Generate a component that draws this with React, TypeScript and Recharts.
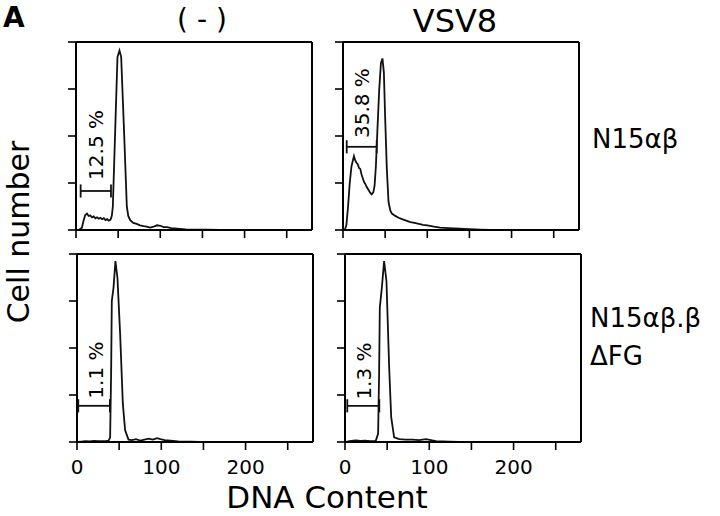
import { LineChart, Line, XAxis, YAxis, ReferenceLine, ReferenceDot } from "recharts";

const FONT = "'DejaVu Sans', 'Liberation Sans', Arial, sans-serif";

// DNA content ticks and cell-number gridding
const dnaTicks = [0, 50, 100, 150, 200, 250];
const countTicks = [0, 1, 2, 3, 4];

// [DNA content, cell number]
const ctrlN15 = [
  [0, 0], [4, 0.01], [7, 0.05], [9, 0.2], [11, 0.32], [13, 0.35], [15, 0.3], [17, 0.31],
  [19, 0.27], [21, 0.29], [23, 0.25], [25, 0.27], [27, 0.24], [29, 0.26], [31, 0.23],
  [33, 0.25], [35, 0.21], [37, 0.23], [39, 0.2], [41, 0.22], [42.5, 0.3], [43.7, 0.5],
  [46.4, 2.06], [49.2, 3.68], [51.6, 3.82], [53.6, 3.68], [57.1, 2.06], [60.3, 0.5],
  [62, 0.3], [64.3, 0.21], [68, 0.15], [72, 0.13], [76, 0.1], [80, 0.08], [84, 0.07],
  [88, 0.05], [92, 0.07], [96, 0.1], [100, 0.09], [104, 0.06], [108, 0.06], [113, 0.04],
  [120, 0.03], [130, 0.015], [140, 0.01], [155, 0.005], [170, 0],
];
const vsvN15 = [
  [2, 0], [4, 0.1], [6, 0.5], [8, 1.0], [10, 1.35], [12, 1.5], [13, 1.57], [14.5, 1.48],
  [16, 1.43], [17.5, 1.4], [19, 1.32], [20.5, 1.3], [22, 1.18], [23.5, 1.1], [25, 1.02],
  [26.5, 0.98], [28, 0.92], [30, 0.86], [32, 0.8], [34, 0.76], [36, 0.8], [37.5, 0.95],
  [39, 1.35], [41, 2.2], [43, 3.0], [45, 3.55], [46.8, 3.65], [48.5, 3.35], [50, 2.4],
  [52, 1.3], [54, 0.6], [56, 0.42], [58, 0.35], [62, 0.3], [66, 0.26], [70, 0.23],
  [75, 0.2], [80, 0.17], [85, 0.15], [90, 0.13], [95, 0.11], [100, 0.1], [108, 0.07],
  [115, 0.05], [125, 0.04], [139, 0.03], [150, 0.02], [163, 0.01], [175, 0],
];
const ctrlDFG = [
  [1.6, 0], [5, 0.01], [10, 0.02], [15, 0.015], [20, 0.025], [25, 0.02], [30, 0.02],
  [35, 0.025], [37.5, 0.03], [39.3, 0.1], [40.5, 1.5], [41.3, 3.0], [43.3, 3.28],
  [45.6, 3.85], [48, 3.49], [51.2, 2.29], [54.4, 0.81], [57.1, 0.25], [61.1, 0.05],
  [65, 0.04], [70, 0.06], [75, 0.03], [80, 0.05], [85, 0.07], [90, 0.05], [95, 0.08],
  [99, 0.06], [104, 0.04], [111, 0.03], [120, 0.015], [135, 0.01], [145, 0],
];
const vsvDFG = [
  [0.8, 0], [5, 0.02], [10, 0.03], [13, 0.035], [18, 0.025], [24, 0.03], [30, 0.02],
  [36.5, 0.025], [39.3, 0.18], [40.5, 1.5], [41.3, 2.86], [43.7, 3.28], [46.4, 3.85],
  [49.2, 3.42], [52.4, 1.59], [54.8, 0.53], [58.3, 0.1], [64.3, 0.06], [72, 0.05],
  [80, 0.05], [88, 0.04], [96, 0.06], [102, 0.04], [108, 0.02], [124, 0.01], [135, 0],
];

// sub-G1 gate: from, to, level, label, label position
const gates = [
  { from: 5.5, to: 41.5, level: 0.83, text: "12.5 %", lx: 23.7, ly: 1.81 },
  { from: 4.4, to: 40, level: 1.77, text: "35.8 %", lx: 23, ly: 2.7 },
  { from: 1.5, to: 39, level: 0.77, text: "1.1 %", lx: 22.5, ly: 1.53 },
  { from: 2.7, to: 40.7, level: 0.77, text: "1.3 %", lx: 23, ly: 1.51 },
];

const panels = [
  { data: ctrlN15, gate: gates[0], left: 76, top: 42, bottom: false },
  { data: vsvN15, gate: gates[1], left: 343, top: 42, bottom: false },
  { data: ctrlDFG, gate: gates[2], left: 77, top: 254, bottom: true },
  { data: vsvDFG, gate: gates[3], left: 345, top: 254, bottom: true },
];

const PW = 236;
const PH = 188;
const YW = 30;
const MT = 10;
const MR = 10;
const CAP = 0.14;

function Panel({ data, gate, left, top, bottom }: any) {
  const rows = data.map(([dna, count]: number[]) => ({ dna, count }));
  const xh = bottom ? 40 : 12;
  return (
    <div style={{ position: "absolute", left: left - YW, top: top - MT }}>
      <LineChart
        width={YW + PW + MR}
        height={MT + PH + xh}
        data={rows}
        margin={{ top: MT, right: MR, bottom: 0, left: 0 }}
      >
        <XAxis
          type="number"
          dataKey="dna"
          domain={[0, 280]}
          ticks={dnaTicks}
          interval={0}
          height={xh}
          tickSize={8}
          tickMargin={10}
          axisLine={{ stroke: "#000", strokeWidth: 2 }}
          tickLine={{ stroke: "#000", strokeWidth: 1.6 }}
          tick={{ fill: "#000", fontSize: 20, fontFamily: FONT }}
          tickFormatter={(v: number) => (bottom && v % 100 === 0 ? String(v) : "")}
          allowDataOverflow
        />
        <YAxis
          type="number"
          domain={[0, 4]}
          ticks={countTicks}
          interval={0}
          width={YW}
          tickSize={8}
          axisLine={{ stroke: "#000", strokeWidth: 2 }}
          tickLine={{ stroke: "#000", strokeWidth: 1.6 }}
          tickFormatter={() => ""}
          allowDataOverflow
        />
        <ReferenceLine y={4} stroke="#000" strokeWidth={2} />
        <ReferenceLine x={280} stroke="#000" strokeWidth={2} />
        <Line
          type="linear"
          dataKey="count"
          stroke="#111"
          strokeWidth={1.8}
          dot={false}
          isAnimationActive={false}
        />
        <ReferenceLine
          segment={[{ x: gate.from, y: gate.level }, { x: gate.to, y: gate.level }]}
          stroke="#111"
          strokeWidth={1.8}
        />
        <ReferenceLine
          segment={[{ x: gate.from, y: gate.level - CAP }, { x: gate.from, y: gate.level + CAP }]}
          stroke="#111"
          strokeWidth={1.8}
        />
        <ReferenceLine
          segment={[{ x: gate.to, y: gate.level - CAP }, { x: gate.to, y: gate.level + CAP }]}
          stroke="#111"
          strokeWidth={1.8}
        />
        <ReferenceDot
          x={gate.lx}
          y={gate.ly}
          r={0}
          fill="none"
          stroke="none"
          label={{
            value: gate.text,
            position: "center",
            angle: -90,
            fill: "#000",
            fontSize: 20,
            fontFamily: FONT,
          }}
        />
      </LineChart>
    </div>
  );
}

export default function App() {
  return (
    <div
      style={{
        position: "absolute",
        left: 0,
        top: 0,
        width: 720,
        height: 516,
        background: "#fff",
        fontFamily: FONT,
        overflow: "hidden",
      }}
    >
      <svg width={720} height={516} style={{ position: "absolute", left: 0, top: 0 }}>
        <g fill="#000" fontFamily={FONT}>
          <text x={3} y={27} fontSize={28} fontWeight="bold">A</text>
          <text x={202} y={29} fontSize={28} textAnchor="middle">( - )</text>
          <text x={455} y={32} fontSize={32} textAnchor="middle">VSV8</text>
          <text x={29} y={232} fontSize={30} textAnchor="middle" transform="rotate(-90 29 232)">
            Cell number
          </text>
          <text x={592} y={148} fontSize={26}>N15αβ</text>
          <text x={590} y={327} fontSize={26}>N15αβ.β</text>
          <text x={590} y={365} fontSize={26}>ΔFG</text>
          <text x={327} y={508} fontSize={31} textAnchor="middle">DNA Content</text>
        </g>
      </svg>
      {panels.map((p, i) => (
        <Panel key={i} {...p} />
      ))}
    </div>
  );
}
